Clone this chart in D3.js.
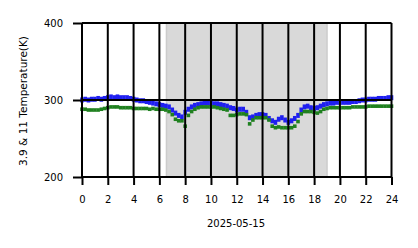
<html>
<head>
<script src="https://d3js.org/d3.v7.min.js"></script>
<style>
body { margin: 0; background: #fff; }
text { font-family: "DejaVu Sans", sans-serif; fill: #000; }
</style>
</head>
<body>
<script>
// hours, sampled every 15 min
var hours = d3.range(0, 24.001, 0.25);

var blue = [
    300, 301, 300, 301, 301,
    302, 301, 302, 303,
    304, 303, 304, 303,
    303, 303, 302, 301,
    300, 299, 299, 298,
    297, 296, 295, 294,
    293, 292, 291, 287,
    283, 280, 278, 284,
    288, 291, 293, 294,
    295, 296, 296, 296,
    295, 295, 294, 293,
    292, 290, 289, 287,
    288, 288, 284, 277,
    278, 280, 281, 281,
    280, 276, 273, 271,
    275, 277, 274, 271,
    273, 276, 280, 287,
    291, 292, 290, 289,
    290, 292, 294, 295,
    296, 296, 297, 297,
    297, 297, 297, 298,
    298, 299, 300, 300,
    301, 301, 301, 302,
    302, 302, 303, 303
];

var green = [
    288, 288, 287, 287, 287,
    287, 288, 289, 290,
    291, 291, 291, 290,
    290, 290, 290, 289,
    289, 289, 289, 289,
    288, 289, 288, 288,
    288, 287, 285, 281,
    275, 273, 273, 266,
    280, 285, 288, 290,
    291, 291, 291, 291,
    291, 290, 289, 288,
    287, 280, 280, 281,
    282, 282, 281, 269,
    274, 277, 277, 277,
    277, 274, 266, 264,
    265, 264, 264, 264,
    264, 266, 272, 282,
    285, 285, 285, 284,
    283, 285, 288, 289,
    290, 290, 290, 290,
    290, 290, 290, 291,
    291, 291, 291, 291,
    292, 292, 292, 292,
    292, 292, 292, 292
];

var xTicks = d3.range(0, 25, 2);
var yTicks = [200, 300, 400];
var night = [6.55, 19.0];

var width = 418, height = 248;
var svg = d3.select("body").append("svg")
    .attr("width", width)
    .attr("height", height);

var x = d3.scaleLinear().domain([0, 24]).range([82, 391.5]);
var y = d3.scaleLinear().domain([200, 400]).range([177, 23]);

// shaded band
svg.append("rect")
    .attr("x", x(night[0]))
    .attr("y", y(400))
    .attr("width", x(night[1]) - x(night[0]))
    .attr("height", y(200) - y(400))
    .attr("fill", "#d9d9d9")
    .attr("stroke", "#cccccc")
    .attr("stroke-width", 1.5);

// data
svg.append("g").selectAll("rect")
    .data(hours)
    .enter().append("rect")
    .attr("x", function(d) { return x(d) - 1.8; })
    .attr("y", function(d, i) { return y(blue[i]) - 2.5; })
    .attr("width", 3.6)
    .attr("height", 5)
    .attr("fill", "#1f1ff0");

svg.append("g").selectAll("rect")
    .data(hours)
    .enter().append("rect")
    .attr("x", function(d) { return x(d) - 1.8; })
    .attr("y", function(d, i) { return y(green[i]) - 1.8; })
    .attr("width", 3.6)
    .attr("height", 3.6)
    .attr("fill", "#1f801f");

// grid on top
var grid = svg.append("g").attr("stroke", "#000").attr("stroke-width", 2);
grid.selectAll(".vg").data(xTicks).enter().append("line")
    .attr("x1", function(d) { return x(d); })
    .attr("x2", function(d) { return x(d); })
    .attr("y1", y(400)).attr("y2", y(200));
grid.selectAll(".hg").data(yTicks).enter().append("line")
    .attr("x1", x(0)).attr("x2", x(24))
    .attr("y1", function(d) { return y(d); })
    .attr("y2", function(d) { return y(d); });

// axes
var xAxis = svg.append("g")
    .attr("transform", "translate(0," + y(200) + ")")
    .call(d3.axisBottom(x).tickValues(xTicks).tickSize(8).tickPadding(11).tickFormat(d3.format("d")));
var yAxis = svg.append("g")
    .attr("transform", "translate(" + x(0) + ",0)")
    .call(d3.axisLeft(y).tickValues(yTicks).tickSize(9).tickPadding(10));

[xAxis, yAxis].forEach(function(a) {
    a.select(".domain").remove();
    a.selectAll(".tick line").attr("stroke", "#000").attr("stroke-width", 2);
    a.selectAll(".tick text").style("font-size", "10px").attr("fill", "#000");
    a.attr("font-family", null);
});

svg.append("text")
    .attr("x", 236).attr("y", 227)
    .attr("text-anchor", "middle")
    .style("font-size", "10px")
    .text("2025-05-15");

svg.append("text")
    .attr("transform", "translate(27,101) rotate(-90)")
    .attr("text-anchor", "middle")
    .style("font-size", "10.5px")
    .text("3.9 & 11 Temperature(K)");
</script>
</body>
</html>
